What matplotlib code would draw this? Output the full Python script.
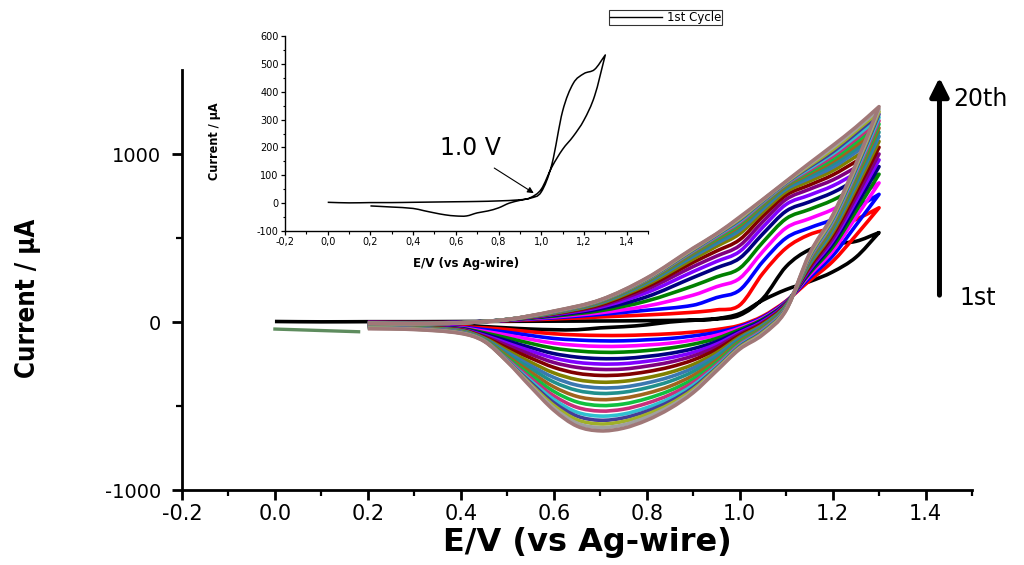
import numpy as np
import pandas as pd
import matplotlib
matplotlib.use("Agg")
import matplotlib.pyplot as plt
from matplotlib.path import Path
from matplotlib.patches import PathPatch
from matplotlib.lines import Line2D
from matplotlib.ticker import MultipleLocator

plt.rcParams["axes.unicode_minus"] = False
plt.rcParams["font.family"] = ["Liberation Sans", "DejaVu Sans"]

# ---------------------------------------------------------------
# Repetitive CV scans (cycles 1..20), current in microampere.
# Each list holds the current of the 20 cycles at one potential.
# ---------------------------------------------------------------
cycles = [f"{n}" for n in range(1, 21)]

# anodic (forward) sweep, 0.2 V -> 1.3 V
fwd_020 = [2, -2, -3, -3, -4, -4, -5, -5, -5, -6, -6, -6, -7, -7, -7, -7, -8, -8, -8, -8]
fwd_030 = [2, -3, -4, -5, -5, -6, -6, -7, -7, -7, -8, -8, -8, -9, -9, -9, -9, -10, -10, -10]
fwd_040 = [3, -2, -2, -3, -3, -3, -3, -4, -4, -4, -4, -4, -4, -5, -5, -5, -5, -5, -5, -5]
fwd_050 = [4, 8, 10, 11, 12, 13, 13, 14, 14, 14, 15, 15, 15, 15, 15, 15, 15, 15, 15, 15]
fwd_060 = [5, 18, 25, 30, 35, 40, 44, 47, 50, 52, 54, 56, 57, 59, 60, 61, 62, 63, 64, 65]
fwd_070 = [6, 30, 45, 55, 67, 78, 88, 96, 103, 109, 114, 118, 121, 124, 126, 128, 129, 130, 131, 132]
fwd_080 = [8, 42, 70, 95, 125, 150, 175, 195, 210, 222, 232, 238, 243, 247, 251, 254, 256, 258, 260, 262]
fwd_090 = [12, 58, 100, 160, 215, 265, 300, 330, 355, 375, 390, 400, 408, 415, 420, 425, 429, 433, 437, 440]
fwd_095 = [18, 72, 145, 210, 268, 322, 360, 392, 422, 450, 467, 480, 490, 498, 506, 512, 517, 521, 523, 525]
fwd_100 = [40, 100, 190, 260, 320, 380, 420, 455, 490, 525, 545, 560, 572, 582, 592, 600, 607, 613, 619, 625]
fwd_105 = [140, 290, 360, 420, 475, 525, 565, 598, 630, 655, 672, 685, 695, 703, 710, 716, 721, 725, 728, 730]
fwd_110 = [330, 440, 500, 560, 615, 660, 700, 730, 755, 775, 790, 800, 808, 815, 820, 825, 829, 832, 835, 838]
fwd_115 = [430, 520, 560, 615, 670, 715, 755, 790, 815, 838, 855, 870, 882, 893, 903, 913, 922, 930, 938, 945]
fwd_120 = [465, 560, 610, 670, 725, 770, 810, 845, 875, 900, 920, 940, 955, 970, 985, 1000, 1012, 1025, 1038, 1050]
fwd_125 = [480, 610, 680, 745, 800, 845, 885, 920, 955, 985, 1010, 1030, 1050, 1070, 1088, 1105, 1122, 1136, 1148, 1160]
vertex_130 = [532, 680, 760, 828, 880, 925, 965, 1000, 1040, 1075, 1105, 1130, 1155, 1178, 1198, 1218, 1237, 1252, 1267, 1282]

# cathodic (reverse) sweep, 1.3 V -> 0.2 V
rev_125 = [385, 515, 575, 622, 658, 690, 717, 741, 769, 793, 815, 832, 850, 866, 880, 894, 908, 919, 929, 940]
rev_120 = [298, 360, 393, 422, 445, 465, 482, 497, 516, 532, 546, 557, 569, 581, 590, 600, 611, 618, 627, 635]
rev_115 = [240, 245, 262, 277, 289, 299, 309, 318, 328, 338, 346, 352, 360, 367, 373, 381, 387, 392, 399, 405]
rev_110 = [193, 125, 122, 119, 116, 113, 110, 107, 104, 101, 98, 94, 91, 88, 85, 82, 79, 76, 73, 70]
rev_105 = [130, 35, 29, 23, 17, 11, 4, -2, -8, -14, -20, -26, -32, -38, -44, -51, -57, -63, -69, -75]
rev_100 = [50, -20, -28, -36, -45, -55, -63, -71, -80, -90, -98, -106, -116, -124, -133, -140, -146, -152, -157, -162]
rev_095 = [20, -45, -62, -79, -98, -117, -132, -148, -164, -183, -198, -212, -228, -242, -255, -265, -274, -280, -286, -292]
rev_090 = [10, -60, -83, -107, -132, -159, -181, -202, -226, -253, -274, -295, -318, -340, -359, -376, -390, -401, -412, -421]
rev_085 = [0, -70, -98, -126, -155, -187, -213, -239, -268, -300, -327, -353, -382, -408, -433, -455, -473, -488, -502, -515]
rev_080 = [-17, -76, -106, -137, -170, -205, -234, -263, -296, -332, -363, -392, -425, -456, -484, -510, -531, -550, -567, -585]
rev_075 = [-28, -80, -112, -144, -179, -217, -248, -280, -314, -353, -387, -418, -453, -488, -519, -548, -571, -592, -612, -632]
rev_070 = [-35, -80, -112, -145, -180, -218, -250, -282, -318, -358, -392, -425, -462, -497, -530, -560, -585, -607, -628, -648]
rev_065 = [-46, -77, -107, -139, -172, -209, -240, -270, -305, -343, -376, -407, -443, -476, -508, -537, -560, -582, -602, -620]
rev_060 = [-46, -70, -98, -126, -156, -188, -214, -241, -270, -303, -330, -357, -386, -413, -439, -461, -480, -496, -511, -525]
rev_055 = [-42, -58, -80, -103, -127, -152, -172, -192, -214, -239, -259, -277, -298, -317, -334, -349, -360, -370, -377, -385]
rev_050 = [-35, -45, -61, -78, -95, -112, -126, -139, -154, -169, -181, -192, -203, -213, -222, -228, -232, -234, -235, -237]
rev_045 = [-27, -35, -45, -55, -64, -72, -79, -85, -90, -95, -99, -102, -105, -107, -109, -110, -111, -112, -113, -115]
rev_040 = [-19, -28, -32, -35, -38, -41, -44, -46, -48, -50, -52, -54, -56, -58, -60, -62, -63, -65, -66, -68]
rev_030 = [-14, -20, -22, -24, -26, -27, -29, -30, -31, -33, -34, -35, -36, -37, -38, -40, -41, -42, -43, -45]
rev_020 = [-10, -15, -17, -18, -20, -21, -22, -24, -25, -26, -27, -29, -30, -31, -32, -33, -35, -36, -37, -40]

# first scan starts at open circuit (0.0 V)
first_lead_E = [0.0, 0.1]
first_lead_I = [3, 1]

# short trace recorded between 0.0 and 0.18 V
stray_E = [0.0, 0.18]
stray_I = [-42, -58]

# axis tick labels
x_ticks = [-0.2, 0.0, 0.2, 0.4, 0.6, 0.8, 1.0, 1.2, 1.4]
y_ticks = [-1000, 0, 1000]
inset_y_ticks = [-100, 0, 100, 200, 300, 400, 500, 600]

forward = pd.DataFrame({
    0.20: fwd_020, 0.30: fwd_030, 0.40: fwd_040, 0.50: fwd_050, 0.60: fwd_060,
    0.70: fwd_070, 0.80: fwd_080, 0.90: fwd_090, 0.95: fwd_095, 1.00: fwd_100,
    1.05: fwd_105, 1.10: fwd_110, 1.15: fwd_115, 1.20: fwd_120, 1.25: fwd_125,
    1.30: vertex_130}, index=cycles)
reverse = pd.DataFrame({
    1.30: vertex_130, 1.25: rev_125, 1.20: rev_120, 1.15: rev_115, 1.10: rev_110,
    1.05: rev_105, 1.00: rev_100, 0.95: rev_095, 0.90: rev_090, 0.85: rev_085,
    0.80: rev_080, 0.75: rev_075, 0.70: rev_070, 0.65: rev_065, 0.60: rev_060,
    0.55: rev_055, 0.50: rev_050, 0.45: rev_045, 0.40: rev_040, 0.30: rev_030,
    0.20: rev_020}, index=cycles)

cycle_colors = ["#000000", "#ff0000", "#0000ff", "#ff00ff", "#008000",
                "#000080", "#8000ff", "#800080", "#800000", "#808000",
                "#3a78b0", "#20908c", "#a0641e", "#10c040", "#c8307a",
                "#30c0d0", "#443c98", "#a0b028", "#a0a0a0", "#a07878"]

NARROW = dict(family="DejaVu Sans", stretch="condensed", weight="bold")
WIDE = ["DejaVu Sans"]


def hermite(E, I, direction):
    """Cubic Hermite segments through (E, I); sweep direction +1 / -1."""
    E = np.asarray(E, float)
    I = np.asarray(I, float)
    t = E * direction
    n = len(t)
    m = np.empty(n)
    m[0] = (I[1] - I[0]) / (t[1] - t[0])
    m[-1] = (I[-1] - I[-2]) / (t[-1] - t[-2])
    for i in range(1, n - 1):
        m[i] = (I[i + 1] - I[i - 1]) / (t[i + 1] - t[i - 1])
    verts, codes = [], []
    for i in range(n - 1):
        dt = t[i + 1] - t[i]
        verts += [(E[i] + direction * dt / 3, I[i] + m[i] * dt / 3),
                  (E[i + 1] - direction * dt / 3, I[i + 1] - m[i + 1] * dt / 3),
                  (E[i + 1], I[i + 1])]
        codes += [Path.CURVE4] * 3
    return verts, codes


def cycle_path(Ef, If, Er, Ir):
    v1, c1 = hermite(Ef, If, +1)
    v2, c2 = hermite(Er, Ir, -1)
    verts = [(Ef[0], If[0])] + v1 + v2
    codes = [Path.MOVETO] + c1 + c2
    return Path(verts, codes)


fig = plt.figure(figsize=(10.24, 5.65), dpi=100)
ax = fig.add_axes([182 / 1024, 75 / 565, 790 / 1024, 420 / 565])
ax.set_xlim(-0.2, 1.5)
ax.set_ylim(-1000, 1500)

for k, name in enumerate(cycles):
    Ef = list(forward.columns)
    If = list(forward.loc[name].values)
    if k == 0:
        Ef = first_lead_E + Ef
        If = first_lead_I + If
    Er = list(reverse.columns)
    Ir = list(reverse.loc[name].values)
    ax.add_patch(PathPatch(cycle_path(Ef, If, Er, Ir), fill=False,
                           edgecolor=cycle_colors[k], lw=2.6,
                           joinstyle="round", capstyle="butt", zorder=3 + k))

ax.plot(stray_E, stray_I, color="#5e8c5e", lw=2.4, zorder=2)

for s in ("top", "right"):
    ax.spines[s].set_visible(False)
for s in ("left", "bottom"):
    ax.spines[s].set_linewidth(2.0)
ax.set_xticks(x_ticks, labels=[f"{v:.1f}" for v in x_ticks],
              fontsize=15, family=WIDE)
ax.xaxis.set_minor_locator(MultipleLocator(0.1))
ax.set_yticks(y_ticks, labels=[str(v) for v in y_ticks],
              fontsize=14, family=WIDE)
ax.set_yticks([-500, 500], minor=True)
ax.tick_params(which="major", direction="out", length=7, width=2)
ax.tick_params(which="minor", direction="out", length=4, width=1.6)
ax.tick_params(axis="x", pad=3)
ax.tick_params(axis="y", pad=8)

fig.text(28 / 1024, 1 - 298 / 565, "Current / µA", rotation=90, fontsize=18.5,
         ha="center", va="center", **NARROW)
fig.text(587 / 1024, 1 - 543 / 565, "E/V (vs Ag-wire)", fontsize=23,
         fontweight="bold", family=WIDE, ha="center", va="center")

# cycle-number arrow
ax.annotate("", xy=(1.43, 1455), xytext=(1.43, 160),
            arrowprops=dict(arrowstyle="-|>", lw=3.6, color="black",
                            mutation_scale=28, shrinkA=0, shrinkB=0),
            annotation_clip=False)
ax.text(1.460, 1330, "20th", fontsize=17, family=WIDE,
        ha="left", va="center", clip_on=False)
ax.text(1.473, 145, "1st", fontsize=17, family=WIDE,
        ha="left", va="center", clip_on=False)

# ---------------- inset: first cycle only ----------------
axi = fig.add_axes([285 / 1024, 1 - 231 / 565, 363 / 1024, 195 / 565])
axi.set_facecolor("none")
Ef1 = first_lead_E + list(forward.columns)
If1 = first_lead_I + list(forward.loc[cycles[0]].values)
Er1 = list(reverse.columns)
Ir1 = list(reverse.loc[cycles[0]].values)
axi.add_patch(PathPatch(cycle_path(Ef1, If1, Er1, Ir1), fill=False,
                        edgecolor="black", lw=1.1, joinstyle="round"))
axi.set_xlim(-0.2, 1.5)
axi.set_ylim(-100, 600)
for s in ("top", "right"):
    axi.spines[s].set_visible(False)
for s in ("left", "bottom"):
    axi.spines[s].set_linewidth(1.0)
axi.set_xticks(x_ticks, labels=[f"{v:.1f}".replace(".", ",") for v in x_ticks],
               fontsize=7, family=WIDE)
axi.xaxis.set_minor_locator(MultipleLocator(0.1))
axi.set_yticks(inset_y_ticks, labels=[str(v) for v in inset_y_ticks],
               fontsize=7, family=WIDE)
axi.yaxis.set_minor_locator(MultipleLocator(50))
axi.tick_params(which="major", direction="out", length=3, width=0.9, pad=1.5)
axi.tick_params(which="minor", direction="out", length=1.8, width=0.8)
axi.set_ylabel("Current / µA", fontsize=9, **NARROW)
axi.yaxis.set_label_coords(-0.175, 0.46)
axi.set_xlabel("E/V (vs Ag-wire)", fontsize=8.5, fontweight="bold", family=WIDE)
axi.xaxis.set_label_coords(0.5, -0.135)

axi.annotate("", xy=(0.965, 36), xytext=(0.78, 126),
             arrowprops=dict(arrowstyle="-|>", lw=0.8, color="black",
                             mutation_scale=9, shrinkA=0, shrinkB=0))
axi.text(0.667, 198, "1.0 V", fontsize=17, family=WIDE,
         ha="center", va="center")

leg = fig.legend(handles=[Line2D([], [], color="black", lw=1.0)],
                 labels=["1st Cycle"], loc="upper left",
                 bbox_to_anchor=(609 / 1024, 1 - 10 / 565),
                 prop=dict(family="DejaVu Sans", size=8.5),
                 frameon=True, fancybox=False, edgecolor="black",
                 borderpad=0.1, handlelength=4.4, handletextpad=0.4,
                 borderaxespad=0)
leg.get_frame().set_linewidth(0.8)

fig.savefig("out.png", dpi=100)
